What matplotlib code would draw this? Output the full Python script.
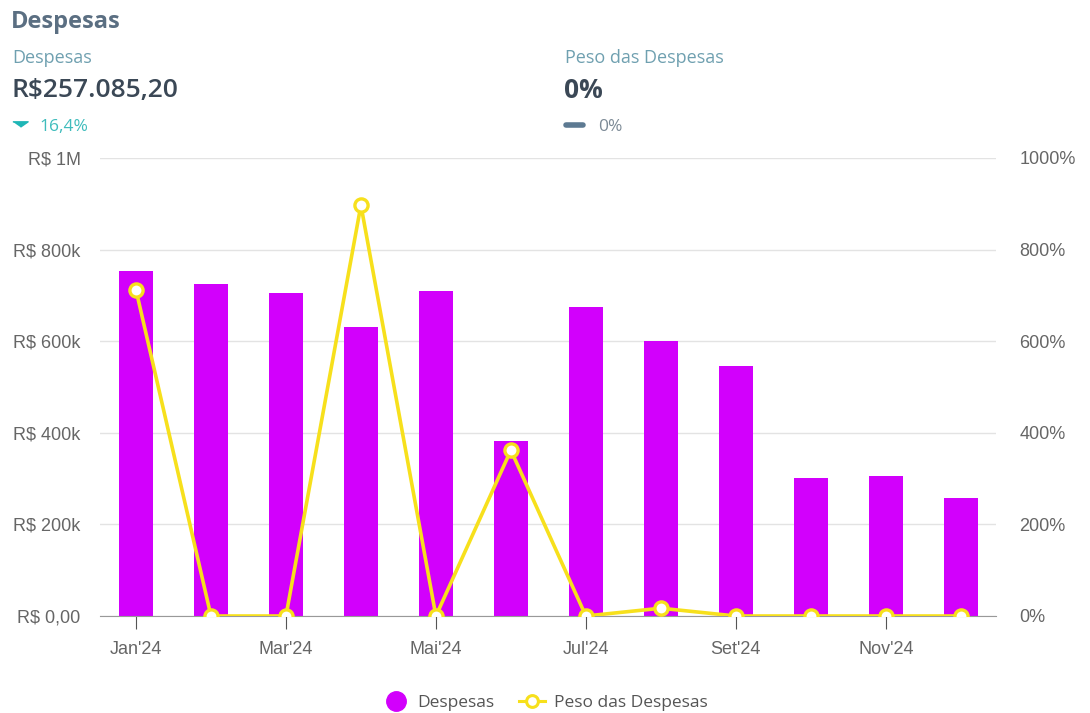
import matplotlib.pyplot as plt
from matplotlib.lines import Line2D

months = ['Jan', 'Fev', 'Mar', 'Abr', 'Mai', 'Jun', 'Jul', 'Ago', 'Set', 'Out', 'Nov', 'Dez']
despesas = [753000, 725000, 705000, 631000, 710000, 382000, 675000, 600000, 546000, 301000, 306000, 257085.20]
peso = [712, 0, 0, 897, 0, 362, 0, 17, 0, 0, 0, 0]
left_ticks = [0, 200000, 400000, 600000, 800000, 1000000]
left_labels = ['R$ 0,00', 'R$ 200k', 'R$ 400k', 'R$ 600k', 'R$ 800k', 'R$ 1M']
right_ticks = [0, 200, 400, 600, 800, 1000]
right_labels = ['0%', '200%', '400%', '600%', '800%', '1000%']

bar_color = '#d200fc'
line_color = '#f7e01c'
axis_grey = '#666666'

plt.rcParams['font.family'] = ['Liberation Sans', 'DejaVu Sans']

fig = plt.figure(figsize=(10.9, 7.13), dpi=100)
ax = fig.add_axes([100 / 1090, 97 / 713, 896 / 1090, 458 / 713])

x = list(range(len(months)))
ax.bar(x, despesas, width=0.46, color=bar_color, zorder=2)
ax.set_xlim(-0.48, 11.47)
ax.set_ylim(0, 1000000)
ax.set_yticks(left_ticks)
ax.set_yticklabels(left_labels, fontsize=13, color=axis_grey)
ax.tick_params(axis='y', length=0, pad=14)
ax.grid(axis='y', color='#e3e3e3', linewidth=1, zorder=0)
ax.set_xticks(x[::2])
ax.set_xticklabels([m + "'24" for m in months[::2]], fontsize=13, color=axis_grey)
ax.tick_params(axis='x', length=9, color='#555555', pad=9)
for s in ['top', 'right', 'left']:
    ax.spines[s].set_visible(False)
ax.spines['bottom'].set_color('#999999')
ax.spines['bottom'].set_zorder(3)

ax2 = ax.twinx()
ax2.plot(x, peso, color=line_color, linewidth=2.6, marker='o', markersize=9.5,
         markerfacecolor='white', markeredgecolor=line_color, markeredgewidth=2.4, zorder=4)
ax2.set_ylim(0, 1000)
ax2.set_yticks(right_ticks)
ax2.set_yticklabels(right_labels, fontsize=13, color=axis_grey)
ax2.tick_params(axis='y', length=0, pad=17)
for s in ax2.spines.values():
    s.set_visible(False)

# header
hf = ['Open Sans', 'DejaVu Sans']
fig.text(11 / 1090, 1 - 22 / 713, 'Despesas', fontsize=17, fontweight='bold', color='#5b6f82',
         family=hf, va='center')
fig.text(12 / 1090, 1 - 58 / 713, 'Despesas', fontsize=13, color='#6fa0b0', family=hf, va='center')
fig.text(12 / 1090, 1 - 91 / 713, 'R$257.085,20', fontsize=19, fontweight='semibold', color='#3b4856',
         family=hf, va='center')
caret = [(-1.0, 0.35), (1.0, 0.35), (0.0, -0.35)]
fig.add_artist(Line2D([20 / 1090], [1 - 124 / 713], linestyle='none', marker=caret, markersize=11,
                      color='#1fb6b6'))
fig.text(39 / 1090, 1 - 127 / 713, '16,4%', fontsize=12.5, color='#3fbcbc', family=hf, va='center')
fig.text(565 / 1090, 1 - 58 / 713, 'Peso das Despesas', fontsize=13, color='#6fa0b0', family=hf, va='center')
fig.text(564 / 1090, 1 - 91 / 713, '0%', fontsize=19, fontweight='bold', color='#3b4856', family=hf, va='center')
fig.add_artist(Line2D([566 / 1090, 583 / 1090], [1 - 125 / 713] * 2, color='#5d7a92',
                      linewidth=4, solid_capstyle='round'))
fig.text(598 / 1090, 1 - 127 / 713, '0%', fontsize=12.5, color='#7c8a96', family=hf, va='center')

handles = [
    Line2D([], [], linestyle='none', marker='o', markersize=14, color=bar_color),
    Line2D([], [], color=line_color, linewidth=2.2, marker='o', markersize=8.5,
           markerfacecolor='white', markeredgecolor=line_color, markeredgewidth=2.2),
]
fig.legend(handles, ['Despesas', 'Peso das Despesas'], loc='center', ncol=2,
           bbox_to_anchor=(545 / 1090, 1 - 703 / 713), frameon=False,
           prop={'family': hf, 'size': 12.5}, labelcolor='#555555',
           handlelength=1.5, columnspacing=1.4, handletextpad=0.5)

fig.savefig('out.png', dpi=100, facecolor='white')
